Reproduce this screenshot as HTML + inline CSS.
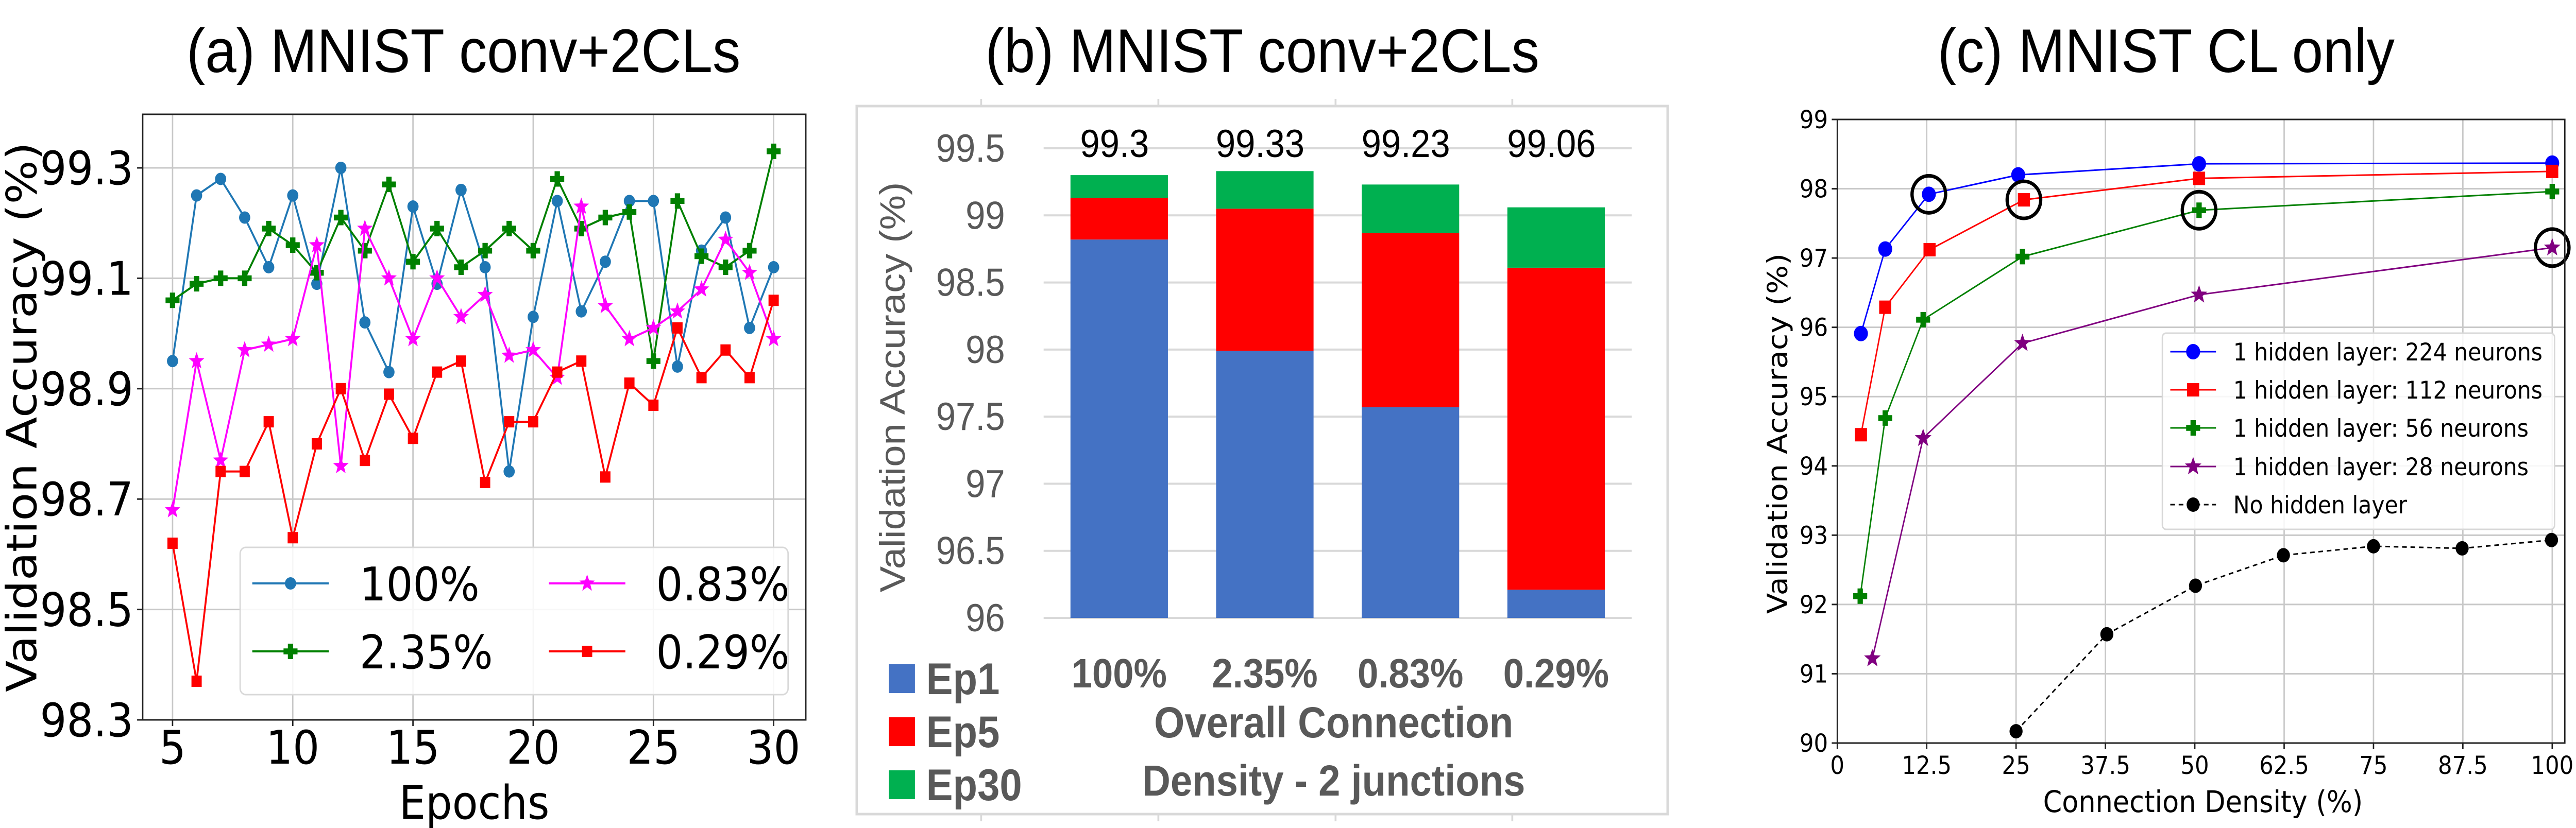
<!DOCTYPE html>
<html><head><meta charset="utf-8">
<style>
html,body{margin:0;padding:0;background:#fff;width:5524px;height:1608px;overflow:hidden;}
svg{display:block;width:100vw;height:100vh;max-width:5524px;max-height:1608px;}
text{font-family:"DejaVu Sans","Liberation Sans",sans-serif;}
.ttl{font-family:"Liberation Sans",Arial,sans-serif;font-size:120px;fill:#000;}
.xl{font-family:"Liberation Sans Narrow","Liberation Sans",sans-serif;fill:#595959;}
</style></head>
<body>
<svg id="fig" viewBox="0 0 5524 1608" preserveAspectRatio="none" xmlns="http://www.w3.org/2000/svg">
<rect x="0" y="0" width="5524" height="1608" fill="#fff"/>
<text class="ttl" x="994" y="140" text-anchor="middle">(a) MNIST conv+2CLs</text>
<text class="ttl" x="2707" y="140" text-anchor="middle">(b) MNIST conv+2CLs</text>
<text class="ttl" x="4645" y="140" text-anchor="middle">(c) MNIST CL only</text>
<g id="pa"></g>
<g id="pb"></g>
<g id="pc"></g>
</svg>
<script>
// ---------- Panel (a) data ----------
const epochs = [5,6,7,8,9,10,11,12,13,14,15,16,17,18,19,20,21,22,23,24,25,26,27,28,29,30];
const accA100 = [98.95,99.25,99.28,99.21,99.12,99.25,99.09,99.30,99.02,98.93,99.23,99.09,99.26,99.12,98.75,99.03,99.24,99.04,99.13,99.24,99.24,98.94,99.15,99.21,99.01,99.12];
const accA235 = [99.06,99.09,99.10,99.10,99.19,99.16,99.11,99.21,99.15,99.27,99.13,99.19,99.12,99.15,99.19,99.15,99.28,99.19,99.21,99.22,98.95,99.24,99.14,99.12,99.15,99.33];
const accA083 = [98.68,98.95,98.77,98.97,98.98,98.99,99.16,98.76,99.19,99.10,98.99,99.10,99.03,99.07,98.96,98.97,98.92,99.23,99.05,98.99,99.01,99.04,99.08,99.17,99.11,98.99];
const accA029 = [98.62,98.37,98.75,98.75,98.84,98.63,98.80,98.90,98.77,98.89,98.81,98.93,98.95,98.73,98.84,98.84,98.93,98.95,98.74,98.91,98.87,99.01,98.92,98.97,98.92,99.06];
const ticksAY = [98.3,98.5,98.7,98.9,99.1,99.3];
const ticksAX = [5,10,15,20,25,30];
const labelsA = ["100%","2.35%","0.83%","0.29%"];

// ---------- Panel (b) data ----------
const catsB = ["100%","2.35%","0.83%","0.29%"];
const ep1B = [98.82,97.99,97.57,96.21];
const ep5B = [99.13,99.05,98.87,98.61];
const ep30B = [99.30,99.33,99.23,99.06];
const printedB = ["99.3","99.33","99.23","99.06"];
const ticksBY = [96,96.5,97,97.5,98,98.5,99,99.5];
const tickLabelsBY = ["96","96.5","97","97.5","98","98.5","99","99.5"];

// ---------- Panel (c) data ----------
const x224 = [3.3,6.7,12.8,25.3,50.6,100];
const y224 = [95.91,97.13,97.92,98.20,98.36,98.37];
const x112 = [3.3,6.7,12.9,26.1,50.6,100];
const y112 = [94.45,96.29,97.12,97.84,98.15,98.25];
const x56 = [3.2,6.7,12.0,25.9,50.6,100];
const y56 = [92.12,94.69,96.11,97.02,97.69,97.96];
const x28 = [4.9,12.0,25.9,50.6,100];
const y28 = [91.22,94.40,95.77,96.47,97.15];
const x0 = [25,37.7,50.1,62.4,75,87.4,99.9];
const y0 = [90.17,91.57,92.27,92.71,92.84,92.81,92.93];
const ticksCX = [0,12.5,25,37.5,50,62.5,75,87.5,100];
const tickLabelsCX = ["0","12.5","25","37.5","50","62.5","75","87.5","100"];
const ticksCY = [90,91,92,93,94,95,96,97,98,99];
const labelsC = ["1 hidden layer: 224 neurons","1 hidden layer: 112 neurons","1 hidden layer: 56 neurons","1 hidden layer: 28 neurons","No hidden layer"];

const NS = "http://www.w3.org/2000/svg";
function mk(parent, tag, attrs, txt){
  const e = document.createElementNS(NS, tag);
  for (const k in attrs) e.setAttribute(k, attrs[k]);
  if (txt !== undefined) e.textContent = txt;
  parent.appendChild(e);
  return e;
}
function starPts(cx, cy, r){
  const p = [];
  for (let i=0;i<10;i++){
    const rr = i%2===0 ? r : r*0.42;
    const a = -Math.PI/2 + i*Math.PI/5;
    p.push((cx+rr*Math.cos(a)).toFixed(1)+","+(cy+rr*Math.sin(a)).toFixed(1));
  }
  return p.join(" ");
}
function plusPts(cx, cy, r, t){
  return [[-t,-r],[t,-r],[t,-t],[r,-t],[r,t],[t,t],[t,r],[-t,r],[-t,t],[-r,t],[-r,-t],[-t,-t]]
    .map(q=>(cx+q[0])+","+(cy+q[1])).join(" ");
}
function marker(g, kind, cx, cy, s, color){
  let e;
  if (kind==="o") e = mk(g,"circle",{cx:cx,cy:cy,r:s,fill:color});
  else if (kind==="s") e = mk(g,"rect",{x:cx-s,y:cy-s,width:2*s,height:2*s,fill:color});
  else if (kind==="+") e = mk(g,"polygon",{points:plusPts(cx,cy,s,s*0.38),fill:color});
  else e = mk(g,"polygon",{points:starPts(cx,cy,s*1.25),fill:color});
  return e;
}

// ================= Panel (a) =================
(function(){
  const g = document.getElementById("pa");
  const L=306,R=1728,T=222,B=1398;
  const xA = v => 370 + (v-5)*(1659-370)/25;
  const yA = v => 1398 - (v-98.3)*(1398-326)/1.0;
  ticksAX.forEach(t=>{
    const l = mk(g,"line",{x1:xA(t),x2:xA(t),y1:T,y2:B,stroke:"#c8c8c8","stroke-width":3});
    
    
    mk(g,"line",{x1:xA(t),x2:xA(t),y1:B,y2:B+12,stroke:"#222","stroke-width":3});
    const tx = mk(g,"text",{x:xA(t),y:B+85,"text-anchor":"middle","font-size":90},String(t));
    
    
  });
  ticksAY.forEach(t=>{
    const l = mk(g,"line",{x1:L,x2:R,y1:yA(t),y2:yA(t),stroke:"#c8c8c8","stroke-width":3});
    
    
    mk(g,"line",{x1:L-12,x2:L,y1:yA(t),y2:yA(t),stroke:"#222","stroke-width":3});
    const tx = mk(g,"text",{x:L-20,y:yA(t)+32,"text-anchor":"end","font-size":90},t.toFixed(1));
    
    
  });
  const series = [
    {d:accA100,c:"#1f77b4",m:"o",s:12,name:"series-100pct"},
    {d:accA235,c:"#008000",m:"+",s:15,name:"series-2-35pct"},
    {d:accA083,c:"#ff00ff",m:"*",s:14,name:"series-0-83pct"},
    {d:accA029,c:"#ff0000",m:"s",s:11,name:"series-0-29pct"}
  ];
  series.forEach(S=>{
    const sg = mk(g,"g",{});
    
    
    const pts = S.d.map((v,i)=>xA(epochs[i])+","+yA(v)).join(" ");
    mk(sg,"polyline",{points:pts,fill:"none",stroke:S.c,"stroke-width":4,"stroke-linejoin":"round"});
    S.d.forEach((v,i)=>{
      const m = marker(sg,S.m,xA(epochs[i]),yA(v),S.s,S.c);
      
      
    });
  });
  mk(g,"rect",{x:L,y:T,width:R-L,height:B-T,fill:"none",stroke:"#222","stroke-width":3});
  const lg = mk(g,"g",{});
  
  
  mk(lg,"rect",{x:515,y:1063,width:1175,height:286,rx:12,fill:"#fff","fill-opacity":0.85,stroke:"#d8d8d8","stroke-width":3});
  const colPos = [[541,1133],[541,1265],[1177,1133],[1177,1265]];
  [0,1,2,3].forEach(i=>{
    const S = series[i];
    const p = colPos[i];
    const eg = mk(lg,"g",{});
    
    
    mk(eg,"line",{x1:p[0],x2:p[0]+164,y1:p[1],y2:p[1],stroke:S.c,"stroke-width":4});
    marker(eg,S.m,p[0]+82,p[1],S.s,S.c);
    mk(eg,"text",{x:p[0]+230,y:p[1]+33,"font-size":90},labelsA[i]);
  });
  const yl = mk(g,"text",{x:0,y:0,"text-anchor":"middle","font-size":90,transform:"translate(78,810) rotate(-90)"},"Validation Accuracy (%)");
  
  
  const xl = mk(g,"text",{x:1017,y:1590,"text-anchor":"middle","font-size":90},"Epochs");
  
  
})();

// ================= Panel (b) =================
(function(){
  const g = document.getElementById("pb");
  mk(g,"rect",{x:1837,y:206,width:1739,height:1375,fill:"#fff",stroke:"#d9d9d9","stroke-width":5});
  [2104,2484,2864,3243].forEach(x=>{ mk(g,"line",{x1:x,x2:x,y1:192,y2:206,stroke:"#d9d9d9","stroke-width":4}); mk(g,"line",{x1:x,x2:x,y1:1581,y2:1595,stroke:"#d9d9d9","stroke-width":4}); });
  const L=2238,R=3499;
  const yB = v => 1200 - (v-96)*(1200-288)/3.5;
  const cx0 = 2400, step = 312.3, bw = 209;
  const xB = i => cx0 + i*step;
  ticksBY.forEach((t,i)=>{
    const l = mk(g,"line",{x1:L,x2:R,y1:yB(t),y2:yB(t),stroke:"#d9d9d9","stroke-width":4});
    
    
    const tx = mk(g,"text",{x:2155,y:yB(t)+26,"text-anchor":"end","font-size":76,class:"xl"},tickLabelsBY[i]);
    
    
  });
  catsB.forEach((c,i)=>{
    const bg = mk(g,"g",{});
    
    
    const b1 = mk(bg,"rect",{x:xB(i)-bw/2,y:yB(ep1B[i]),width:bw,height:yB(96)-yB(ep1B[i]),fill:"#4472c4"});
    
    
    const b5 = mk(bg,"rect",{x:xB(i)-bw/2,y:yB(ep5B[i]),width:bw,height:yB(ep1B[i])-yB(ep5B[i]),fill:"#ff0000"});
    
    
    const b30 = mk(bg,"rect",{x:xB(i)-bw/2,y:yB(ep30B[i]),width:bw,height:yB(ep5B[i])-yB(ep30B[i]),fill:"#00b050"});
    
    
    const vl = mk(bg,"text",{x:xB(i)-10,y:305,"text-anchor":"middle","font-size":76,style:"font-family:'Liberation Sans',sans-serif"},printedB[i]);
    
    
    const cl = mk(bg,"text",{x:xB(i),y:1335,"text-anchor":"middle","font-size":80,class:"xl","font-weight":"bold"},c);
    
    
  });
  const xt1 = mk(g,"text",{x:2860,y:1432,"text-anchor":"middle","font-size":84,class:"xl","font-weight":"bold"},"Overall Connection");
  
  
  const xt2 = mk(g,"text",{x:2860,y:1545,"text-anchor":"middle","font-size":84,class:"xl","font-weight":"bold"},"Density - 2 junctions");
  
  
  const yl = mk(g,"text",{x:0,y:0,"text-anchor":"middle","font-size":76,class:"xl",transform:"translate(1940,752) rotate(-90)"},"Validation Accuracy (%)");
  
  
  const legs = [["Ep1","#4472c4",1318],["Ep5","#ff0000",1421],["Ep30","#00b050",1524]];
  legs.forEach(l=>{
    const eg = mk(g,"g",{});
    
    
    mk(eg,"rect",{x:1906,y:l[2]-28,width:56,height:56,fill:l[1]});
    mk(eg,"text",{x:1986,y:l[2]+30,"font-size":86,class:"xl","font-weight":"bold"},l[0]);
  });
})();

// ================= Panel (c) =================
(function(){
  const g = document.getElementById("pc");
  const L=3940,R=5500,T=232,B=1443;
  const xC = v => 3940 + v*(5473-3940)/100;
  const yC = v => 1443 - (v-90)*(1443-232)/9;
  ticksCX.forEach((t,i)=>{
    const l = mk(g,"line",{x1:xC(t),x2:xC(t),y1:T,y2:B,stroke:"#c8c8c8","stroke-width":3});
    
    
    mk(g,"line",{x1:xC(t),x2:xC(t),y1:B,y2:B+12,stroke:"#222","stroke-width":3});
    const tx = mk(g,"text",{x:xC(t),y:B+60,"text-anchor":"middle","font-size":48},tickLabelsCX[i]);
    
    
  });
  ticksCY.forEach(t=>{
    const l = mk(g,"line",{x1:L,x2:R,y1:yC(t),y2:yC(t),stroke:"#c8c8c8","stroke-width":3});
    
    
    mk(g,"line",{x1:L-12,x2:L,y1:yC(t),y2:yC(t),stroke:"#222","stroke-width":3});
    const tx = mk(g,"text",{x:L-20,y:yC(t)+17,"text-anchor":"end","font-size":48},String(t));
    
    
  });
  const series = [
    {x:x224,y:y224,c:"#0000ff",m:"o",s:15,dash:null,name:"series-224-neurons",hl:2},
    {x:x112,y:y112,c:"#ff0000",m:"s",s:13,dash:null,name:"series-112-neurons",hl:3},
    {x:x56,y:y56,c:"#008000",m:"+",s:15,dash:null,name:"series-56-neurons",hl:4},
    {x:x28,y:y28,c:"#800080",m:"*",s:15,dash:null,name:"series-28-neurons",hl:4},
    {x:x0,y:y0,c:"#000000",m:"o",s:14,dash:"10,8",name:"series-no-hidden",hl:-1}
  ];
  series.forEach(S=>{
    const sg = mk(g,"g",{});
    
    
    const pts = S.y.map((v,i)=>xC(S.x[i])+","+yC(v)).join(" ");
    const a = {points:pts,fill:"none",stroke:S.c,"stroke-width":3};
    if (S.dash) a["stroke-dasharray"]=S.dash;
    mk(sg,"polyline",a);
    S.y.forEach((v,i)=>{
      const m = marker(sg,S.m,xC(S.x[i]),yC(v),S.s,S.c);
      
      
    });
    if (S.hl>=0){
      const c = mk(sg,"circle",{cx:xC(S.x[S.hl]),cy:yC(S.y[S.hl]),r:36,fill:"none",stroke:"#000","stroke-width":7});
      
      
    }
  });
  mk(g,"rect",{x:L,y:T,width:R-L,height:B-T,fill:"none",stroke:"#222","stroke-width":3});
  const lg = mk(g,"g",{});
  
  
  mk(lg,"rect",{x:4637,y:647,width:841,height:381,rx:8,fill:"#fff","fill-opacity":0.85,stroke:"#d8d8d8","stroke-width":3});
  const rows = [683,757,831,906,980];
  series.forEach((S,i)=>{
    const eg = mk(lg,"g",{});
    
    
    const a = {x1:4654,x2:4752,y1:rows[i],y2:rows[i],stroke:S.c,"stroke-width":3};
    if (S.dash) a["stroke-dasharray"]=S.dash;
    mk(eg,"line",a);
    marker(eg,S.m,4703,rows[i],S.s,S.c);
    mk(eg,"text",{x:4789,y:rows[i]+17,"font-size":47},labelsC[i]);
  });
  const yl = mk(g,"text",{x:0,y:0,"text-anchor":"middle","font-size":59,transform:"translate(3832,842) rotate(-90)"},"Validation Accuracy (%)");
  
  
  const xl = mk(g,"text",{x:4724,y:1577,"text-anchor":"middle","font-size":58},"Connection Density (%)");
  
  
})();
</script>
</body></html>
